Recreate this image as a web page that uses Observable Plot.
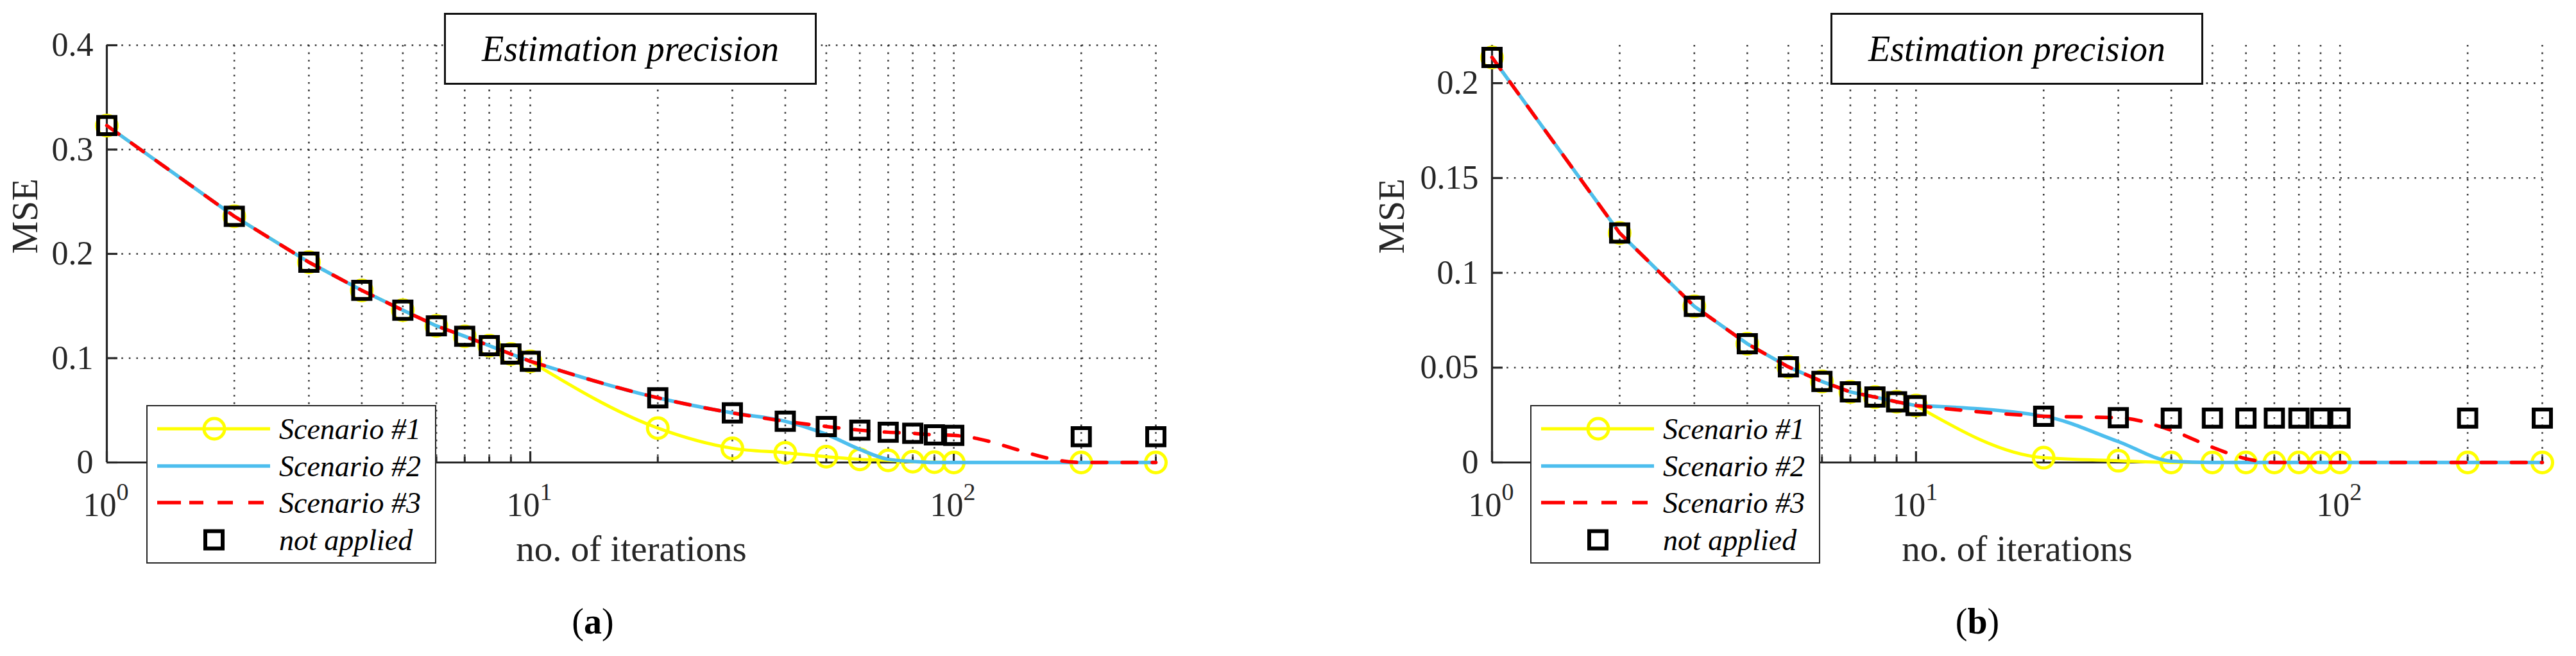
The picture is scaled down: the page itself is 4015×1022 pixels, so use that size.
<!DOCTYPE html>
<html><head><meta charset="utf-8">
<script src="https://cdn.jsdelivr.net/npm/d3@7"></script>
<script src="https://cdn.jsdelivr.net/npm/@observablehq/plot@0.6"></script>
<style>
body{margin:0;background:#fff;}
#fig{position:relative;width:4015px;height:1022px;overflow:hidden;font-family:"Liberation Serif","Times New Roman",serif;background:#fff;}
.panel{position:absolute;top:0;}
.titlebox{position:absolute;top:20px;height:112px;width:581px;box-sizing:border-box;border:3px solid #111;background:#fff;font-style:italic;font-size:56px;display:flex;align-items:center;justify-content:center;color:#000;}
.legend{position:absolute;top:631px;height:247px;width:452px;box-sizing:border-box;border:2.5px solid #262626;background:#fff;}
.legend svg{position:absolute;left:-2.5px;top:-2.5px;}
</style>
</head><body>
<div id="fig"></div>
<script>
// ---------- data ----------
const iterations = [1,2,3,4,5,6,7,8,9,10,20,30,40,50,60,70,80,90,100,200,300];

// panel (a)
const notAppliedA = [0.323,0.236,0.192,0.165,0.146,0.131,0.121,0.112,0.104,0.097,0.062,0.0475,0.0395,0.0345,0.031,0.029,0.028,0.0265,0.026,0.0247,0.0247];
const scenario1A  = [0.323,0.236,0.192,0.165,0.146,0.131,0.121,0.112,0.104,0.097,0.033,0.0136,0.0093,0.0056,0.003,0.002,0.0008,0.0003,0,0,0];
const scenario2A  = [0.323,0.236,0.192,0.165,0.146,0.131,0.121,0.112,0.104,0.097,0.062,0.0475,0.0395,0.027,0.0125,0.003,0.001,0,0,0,0];
const scenario3A  = [0.323,0.236,0.192,0.165,0.146,0.131,0.121,0.112,0.104,0.097,0.062,0.0475,0.0395,0.0345,0.031,0.029,0.028,0.0265,0.026,0,0];

// panel (b)
const notAppliedB = [0.2136,0.121,0.0823,0.0626,0.0504,0.0427,0.0372,0.0345,0.032,0.030,0.0244,0.0236,0.0234,0.0234,0.0234,0.0234,0.0234,0.0234,0.0234,0.0234,0.0234];
const scenario1B  = [0.2136,0.121,0.0823,0.0626,0.0504,0.0427,0.0372,0.0345,0.032,0.030,0.0025,0.0009,0,0,0,0,0,0,0,0,0];
const scenario2B  = [0.2136,0.121,0.0823,0.0626,0.0504,0.0427,0.0372,0.0345,0.032,0.030,0.0244,0.011,0.0007,0,0,0,0,0,0,0,0];
const scenario3B  = [0.2136,0.121,0.0823,0.0626,0.0504,0.0427,0.0372,0.0345,0.032,0.030,0.0244,0.0236,0.017,0.008,0.002,0,0,0,0,0,0];

// ticks
const yTicksA = [0,0.1,0.2,0.3,0.4];
const yTickLabelsA = ["0","0.1","0.2","0.3","0.4"];
const yTicksB = [0,0.05,0.1,0.15,0.2];
const yTickLabelsB = ["0","0.05","0.1","0.15","0.2"];
const xMajor = [1,10,100];
const xTickBase = "10";
const xTickExp = ["0","1","2"];
const xMinor = [2,3,4,5,6,7,8,9,20,30,40,50,60,70,80,90,200,300];
const xGrid = [1,2,3,4,5,6,7,8,9,10,20,30,40,50,60,70,80,90,100,200,300];

const seriesNames = ["Scenario #1","Scenario #2","Scenario #3","not applied"];
const titleText = "Estimation precision";
const xLabel = "no. of iterations";
const yLabel = "MSE";

// ---------- styles ----------
const YELLOW = "#ffff00", BLUE = "#4dbeee", RED = "#ff0000", INK = "#262626";
const FONT = "Liberation Serif, Times New Roman, serif";

function seriesLine(rows, style) {
  // straight segments on the integer steps 1..10, smooth curve from 10 onwards
  const head = rows.filter(d => d.x <= 10), tail = rows.filter(d => d.x >= 10);
  return [
    Plot.line(head, {x: "x", y: "y", ...style, curve: "linear"}),
    Plot.line(tail, {x: "x", y: "y", ...style, curve: "monotone-x"})
  ];
}

function panel({width, marginLeft, marginRight, yDomain, yTicks, yTickLabels, s1, s2, s3, na, yLabelDx, captionDx, caption}) {
  const rows = vals => iterations.map((x, i) => ({x, y: vals[i]}));
  const frameW = width - marginLeft - marginRight;
  const frameH = 650;
  const grid = {stroke: "#222", strokeWidth: 2.6, strokeDasharray: "2.6,9", strokeOpacity: 0.9};
  return Plot.plot({
    width, height: 1022,
    marginTop: 70, marginBottom: 302, marginLeft, marginRight,
    x: {type: "log", domain: [1, 300], axis: null},
    y: {domain: yDomain, axis: null},
    style: {fontFamily: FONT, background: "transparent", overflow: "visible"},
    marks: [
      Plot.ruleY(yTicks, grid),
      Plot.ruleX(xGrid, grid),
      Plot.ruleY([yDomain[0]], {stroke: INK, strokeWidth: 3.2}),
      Plot.ruleX([1], {stroke: INK, strokeWidth: 3.2}),
      Plot.tickY(yTicks, {insetRight: frameW - 17, stroke: INK, strokeWidth: 3.2}),
      Plot.tickX(xMajor, {insetTop: frameH - 17, stroke: INK, strokeWidth: 3.2}),
      Plot.tickX(xMinor, {insetTop: frameH - 9, stroke: INK, strokeWidth: 3}),
      // series
      ...seriesLine(rows(s1), {stroke: YELLOW, strokeWidth: 5}),
      Plot.dot(rows(s1), {x: "x", y: "y", r: 16, stroke: YELLOW, strokeWidth: 5, fill: "none"}),
      ...seriesLine(rows(s2), {stroke: BLUE, strokeWidth: 5.5}),
      ...seriesLine(rows(s3), {stroke: RED, strokeWidth: 5.5, strokeDasharray: "23,24"}),
      Plot.dot(rows(na), {x: "x", y: "y", symbol: "square", r: 15.2, stroke: "#000", strokeWidth: 6, fill: "none"}),
      // y tick labels
      Plot.text(yTicks, {y: d => d, frameAnchor: "left", text: (d, i) => yTickLabels[i], textAnchor: "end", dx: -21, fontSize: 52, fill: INK}),
      // x tick labels 10^k
      Plot.text(xMajor, {x: d => d, frameAnchor: "bottom", text: () => xTickBase, textAnchor: "end", lineAnchor: "bottom", dx: 15, dy: 83, fontSize: 52, fill: INK}),
      Plot.text(xMajor, {x: d => d, frameAnchor: "bottom", text: (d, i) => xTickExp[i], textAnchor: "start", lineAnchor: "bottom", dx: 15, dy: 58, fontSize: 38, fill: INK}),
      // axis labels
      Plot.text([xLabel], {frameAnchor: "bottom", text: d => d, lineAnchor: "bottom", dy: 153, fontSize: 57, fill: INK}),
      Plot.text([yLabel], {frameAnchor: "left", text: d => d, rotate: -90, dx: yLabelDx, fontSize: 57, fill: INK}),
      // caption
      Plot.text([caption], {frameAnchor: "bottom", text: d => d, lineAnchor: "bottom", dx: captionDx, dy: 266, fontSize: 56, fill: "#000"})
    ]
  });
}

const fig = document.getElementById("fig");

function addPanel(left, cfg, titleLeft, legendLeft) {
  const svg = panel(cfg);
  svg.classList.add("panel");
  svg.style.left = left + "px";
  fig.appendChild(svg);
  const t = document.createElement("div");
  t.className = "titlebox";
  t.style.left = titleLeft + "px";
  t.textContent = titleText;
  fig.appendChild(t);
  // legend
  const lg = document.createElement("div");
  lg.className = "legend";
  lg.style.left = legendLeft + "px";
  const ys = [37, 95, 152, 210];
  lg.innerHTML = `<svg width="452" height="247" font-family="${FONT}" font-style="italic" font-size="46">
    <line x1="17" x2="193" y1="${ys[0]}" y2="${ys[0]}" stroke="${YELLOW}" stroke-width="5"/>
    <circle cx="106" cy="${ys[0]}" r="16" fill="none" stroke="${YELLOW}" stroke-width="5"/>
    <line x1="17" x2="193" y1="${ys[1]}" y2="${ys[1]}" stroke="${BLUE}" stroke-width="5.5"/>
    <line x1="17" x2="193" y1="${ys[2]}" y2="${ys[2]}" stroke="${RED}" stroke-width="5.5" stroke-dasharray="37,13,22,22,24,24,24,40"/>
    <rect x="92" y="${ys[3]-13.5}" width="27" height="27" fill="none" stroke="#000" stroke-width="6"/>
    ${seriesNames.map((s, i) => `<text x="207" y="${ys[i] + 16}" fill="#000">${s}</text>`).join("")}
  </svg>`;
  fig.appendChild(lg);
}

addPanel(0, {
  width: 2007, marginLeft: 166, marginRight: 206,
  yDomain: [0, 0.4], yTicks: yTicksA, yTickLabels: yTickLabelsA,
  s1: scenario1A, s2: scenario2A, s3: scenario3A, na: notAppliedA,
  yLabelDx: -127, captionDx: -60, caption: "(a)"
}, 692, 228);

addPanel(2007, {
  width: 2008, marginLeft: 318, marginRight: 53,
  yDomain: [0, 0.22], yTicks: yTicksB, yTickLabels: yTickLabelsB,
  s1: scenario1B, s2: scenario2B, s3: scenario3B, na: notAppliedB,
  yLabelDx: -156, captionDx: -62, caption: "(b)"
}, 2853, 2385);

// bold letter inside captions (keep parentheses regular)
document.querySelectorAll("svg.panel text").forEach(el => {
  const s = el.textContent;
  if (s === "(a)" || s === "(b)") {
    el.textContent = "";
    const mk = (txt, bold) => { const ts = document.createElementNS("http://www.w3.org/2000/svg", "tspan"); ts.textContent = txt; if (bold) ts.setAttribute("font-weight", "bold"); return ts; };
    el.appendChild(mk("(", false)); el.appendChild(mk(s[1], true)); el.appendChild(mk(")", false));
  }
});
</script>
</body></html>
